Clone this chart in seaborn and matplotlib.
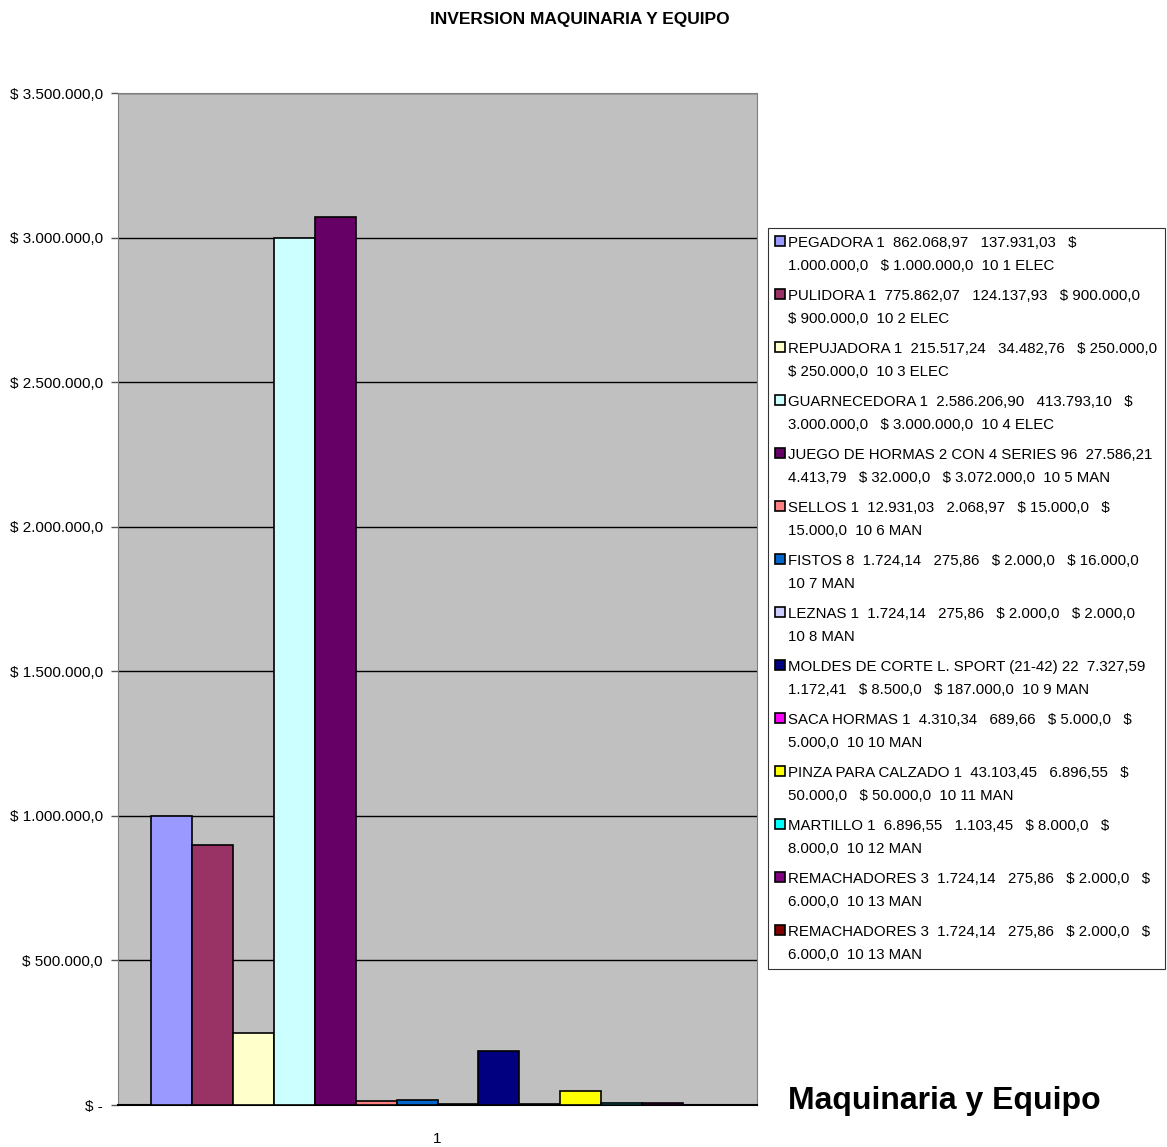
import pandas as pd
import matplotlib.pyplot as plt
import seaborn as sns
from matplotlib.ticker import FuncFormatter, MultipleLocator

# datos de la grafica (una sola categoria "1", 14 series)
categoria = ["1"]
series = [str(i) for i in range(1, 15)]
valores = [1000000, 900000, 250000, 3000000, 3072000, 15000, 16000,
           2000, 187000, 5000, 50000, 8000, 6000, 0]  # la ultima serie no aparece dibujada
etiquetas = [
    "PEGADORA 1  862.068,97   137.931,03   \\$\n1.000.000,0   \\$ 1.000.000,0  10 1 ELEC",
    "PULIDORA 1  775.862,07   124.137,93   \\$ 900.000,0\n\\$ 900.000,0  10 2 ELEC",
    "REPUJADORA 1  215.517,24   34.482,76   \\$ 250.000,0\n\\$ 250.000,0  10 3 ELEC",
    "GUARNECEDORA 1  2.586.206,90   413.793,10   \\$\n3.000.000,0   \\$ 3.000.000,0  10 4 ELEC",
    "JUEGO DE HORMAS 2 CON 4 SERIES 96  27.586,21\n4.413,79   \\$ 32.000,0   \\$ 3.072.000,0  10 5 MAN",
    "SELLOS 1  12.931,03   2.068,97   \\$ 15.000,0   \\$\n15.000,0  10 6 MAN",
    "FISTOS 8  1.724,14   275,86   \\$ 2.000,0   \\$ 16.000,0\n10 7 MAN",
    "LEZNAS 1  1.724,14   275,86   \\$ 2.000,0   \\$ 2.000,0\n10 8 MAN",
    "MOLDES DE CORTE L. SPORT (21-42) 22  7.327,59\n1.172,41   \\$ 8.500,0   \\$ 187.000,0  10 9 MAN",
    "SACA HORMAS 1  4.310,34   689,66   \\$ 5.000,0   \\$\n5.000,0  10 10 MAN",
    "PINZA PARA CALZADO 1  43.103,45   6.896,55   \\$\n50.000,0   \\$ 50.000,0  10 11 MAN",
    "MARTILLO 1  6.896,55   1.103,45   \\$ 8.000,0   \\$\n8.000,0  10 12 MAN",
    "REMACHADORES 3  1.724,14   275,86   \\$ 2.000,0   \\$\n6.000,0  10 13 MAN",
    "REMACHADORES 3  1.724,14   275,86   \\$ 2.000,0   \\$\n6.000,0  10 13 MAN",
]
colores = ["#9999FF", "#993366", "#FFFFCC", "#CCFFFF", "#660066", "#FF8080",
           "#0066CC", "#CCCCFF", "#000080", "#FF00FF", "#FFFF00", "#00FFFF",
           "#800080", "#800000"]

df = pd.DataFrame({"cat": categoria * len(series), "serie": series, "valor": valores})

sns.set_style("white")
plt.rcParams['font.family'] = ['Liberation Sans', 'DejaVu Sans']
plt.rcParams['text.color'] = 'black'
plt.rcParams['xtick.color'] = 'black'
plt.rcParams['ytick.color'] = 'black'

fig = plt.figure(figsize=(11.67, 11.47), dpi=100)
ax = fig.add_axes([0.1011, 0.0366, 0.5476, 0.8823])
ax.set_facecolor("#C0C0C0")

sns.barplot(data=df, x="cat", y="valor", hue="serie", hue_order=series,
            palette=colores, saturation=1, width=0.898, gap=0,
            edgecolor="black", linewidth=1.2, ax=ax, zorder=3)

ax.set_ylim(0, 3500000)
ax.set_xlim(-0.5, 0.5)
ax.yaxis.set_major_locator(MultipleLocator(500000))


def pesos(v, pos):
    if v == 0:
        return "$ -"
    return "$ " + f"{v:,.1f}".replace(",", "X").replace(".", ",").replace("X", ".")


ax.yaxis.set_major_formatter(FuncFormatter(pesos))
ax.grid(axis="y", color="black", linewidth=1, zorder=1)
ax.set_axisbelow(True)
ax.tick_params(axis="y", which="major", left=True, length=5, width=1, color="#555555",
               labelcolor="black", labelsize=11, pad=6)
ax.tick_params(axis="x", bottom=False, labelcolor="black", labelsize=11, pad=16)
ax.set_xlabel("")
ax.set_ylabel("")
for lado in ["left", "right", "top"]:
    ax.spines[lado].set_color("#808080")
ax.spines["bottom"].set_color("black")
ax.spines["bottom"].set_linewidth(1.5)

handles, _ = ax.get_legend_handles_labels()
ax.legend(handles, etiquetas, loc="upper left", bbox_to_anchor=(0.658, 0.801),
          bbox_transform=fig.transFigure, frameon=True, fancybox=False,
          edgecolor="black", fontsize=10.8, handlelength=0.65, handleheight=0.65,
          handletextpad=0.2, labelspacing=1.08, borderpad=0.5, borderaxespad=0,
          labelcolor="black")
leg = ax.get_legend()
leg.get_frame().set_linewidth(0.8)
for t in leg.get_texts():
    t.set_linespacing(1.8)
# el cuadrito de color va junto a la primera linea del texto
for columna in leg._legend_handle_box.get_children():
    for fila in columna.get_children():
        fila.align = "top"

fig.text(0.497, 0.983, "INVERSION MAQUINARIA Y EQUIPO", ha="center", va="center",
         fontsize=12.5, fontweight="bold", color="black")
fig.text(0.675, 0.040, "Maquinaria y Equipo", ha="left", va="center",
         fontsize=23, fontweight="bold", color="black")

fig.savefig("out.png", dpi=100)
